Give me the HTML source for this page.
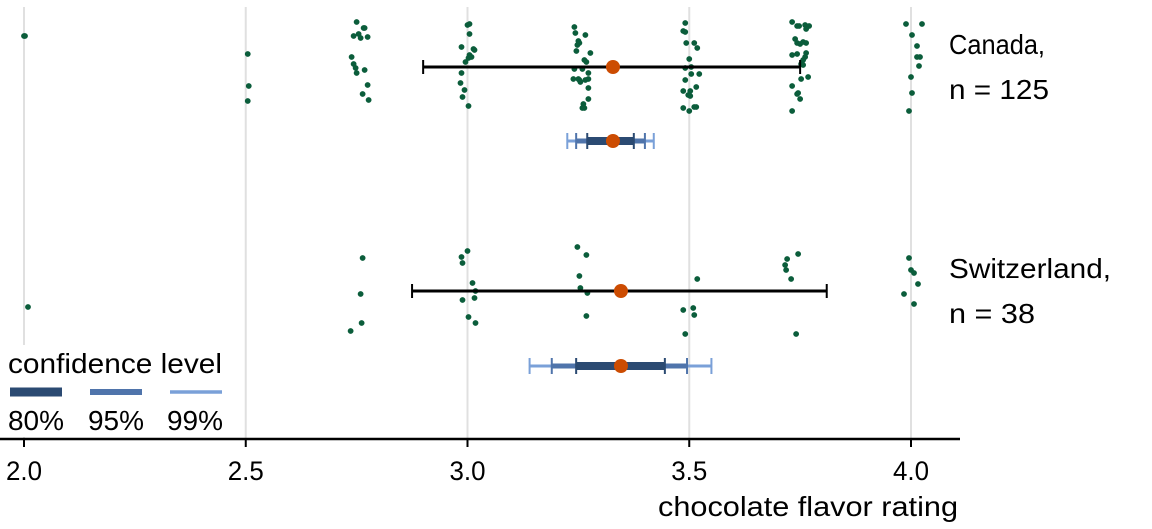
<!DOCTYPE html>
<html><head><meta charset="utf-8"><style>
html,body{margin:0;padding:0;background:#fff;}
svg{display:block;font-family:"Liberation Sans",sans-serif;}
</style></head><body>
<svg id="chart" width="1152" height="529" viewBox="0 0 1152 529" xmlns="http://www.w3.org/2000/svg">
<g id="grid"></g>
<g id="points"></g>
<g id="ci"></g>
<g id="axis"></g>
<g>
<rect x="0" y="345" width="236" height="92" fill="#fff"/>
<text x="8" y="373" font-size="28" textLength="214" lengthAdjust="spacingAndGlyphs">confidence level</text>
<line x1="10" y1="392" x2="62" y2="392" stroke="#2b4a72" stroke-width="9"/>
<line x1="90" y1="392" x2="142" y2="392" stroke="#4f74ab" stroke-width="6"/>
<line x1="170" y1="392" x2="222" y2="392" stroke="#7aa0d8" stroke-width="3.5"/>
<text x="8" y="430" font-size="28" textLength="56" lengthAdjust="spacingAndGlyphs">80%</text>
<text x="88" y="430" font-size="28" textLength="56" lengthAdjust="spacingAndGlyphs">95%</text>
<text x="167" y="430" font-size="28" textLength="56" lengthAdjust="spacingAndGlyphs">99%</text>
</g>
<text x="949" y="54" font-size="28" textLength="96" lengthAdjust="spacingAndGlyphs">Canada,</text>
<text x="949" y="99" font-size="28" textLength="100" lengthAdjust="spacingAndGlyphs">n = 125</text>
<text x="949" y="278" font-size="28" textLength="162" lengthAdjust="spacingAndGlyphs">Switzerland,</text>
<text x="949" y="323" font-size="28" textLength="86" lengthAdjust="spacingAndGlyphs">n = 38</text>
<text x="958" y="516" font-size="28" text-anchor="end" textLength="300" lengthAdjust="spacingAndGlyphs">chocolate flavor rating</text>
</svg>
<script>
const tickValues = [2.0, 2.5, 3.0, 3.5, 4.0];
const tickLabels = ["2.0", "2.5", "3.0", "3.5", "4.0"];
const canadaRatings = [2,2,2.5,2.5,2.5,
2.75,2.75,2.75,2.75,2.75,2.75,2.75,2.75,2.75,2.75,2.75,2.75,2.75,2.75,2.75,
3,3,3,3,3,3,3,3,3,3,3,3,3,3,3,
3.25,3.25,3.25,3.25,3.25,3.25,3.25,3.25,3.25,3.25,3.25,3.25,3.25,3.25,3.25,3.25,3.25,3.25,3.25,3.25,3.25,3.25,3.25,3.25,
3.5,3.5,3.5,3.5,3.5,3.5,3.5,3.5,3.5,3.5,3.5,3.5,3.5,3.5,3.5,3.5,3.5,3.5,3.5,3.5,3.5,
3.75,3.75,3.75,3.75,3.75,3.75,3.75,3.75,3.75,3.75,3.75,3.75,3.75,3.75,3.75,3.75,3.75,3.75,3.75,3.75,3.75,3.75,3.75,3.75,3.75,
4,4,4,4,4,4,4,4,4,4];
const canadaJitterX = [1,0,2,3,2, 0,-3,2,7,8,4,11,-5,-3,-1,0,8,11,6,12, 0,2,2,-6,6,7,2,1,-2,-6,-7,-3,-5,1,4,
-4,-3,7,0,-1,1,-2,12,6,8,4,-4,10,0,-5,1,7,10,2,10,10,5,6,4,
-4,-6,-4,-3,5,8,0,2,-4,2,10,-4,1,-6,-1,1,7,-6,0,5,7,
-8,-3,-1,5,9,6,-5,-3,0,3,6,-8,-3,6,5,3,1,3,8,1,-8,-2,-3,0,-8,
-5,11,1,6,6,9,8,0,1,-2];
const canadaJitterY = [36,36,54,86,101, 22,36,34,28,28,38,37,57,64,68,73,70,85,94,100, 25,24,34,47,49,50,55,58,62,73,83,90,97,106,57,
27,33,35,41,45,43,51,53,60,62,69,69,73,79,79,80,80,79,82,88,99,104,108,108,
23,31,32,43,43,48,59,67,68,74,74,80,91,91,95,96,87,108,111,107,107,
22,26,26,25,26,29,39,43,44,42,43,55,54,53,57,60,64,65,77,79,86,93,94,99,111,
24,24,35,46,57,57,66,77,93,111];
const swissRatings = [2,2.75,2.75,2.75,2.75,3,3,3,3,3,3,3,3,3,3.25,3.25,3.25,3.25,3.25,3.25,3.5,3.5,3.5,3.5,3.5,3.75,3.75,3.75,3.75,3.75,3.75,4,4,4,4,4,4];
const swissJitterX = [4,6,4,5,-6,0,-6,-5,5,8,-5,7,1,8,-1,8,1,2,9,8,8,-6,4,5,-4,-2,-13,-15,-14,-9,-4,-2,0,3,7,-7,3];
const swissJitterY = [307,258,294,323,331,251,257,263,283,291,300,298,317,323,247,255,276,288,293,316,279,310,308,315,334,254,259,265,270,279,334,258,270,273,284,294,304];
const groupMeans = [3.328, 3.346];
const groupSdLow = [2.90, 2.875];
const groupSdHigh = [3.75, 3.81];
const ci80Low = [3.27, 3.245];
const ci80High = [3.375, 3.445];
const ci95Low = [3.245, 3.19];
const ci95High = [3.40, 3.495];
const ci99Low = [3.225, 3.14];
const ci99High = [3.42, 3.55];

const NS = "http://www.w3.org/2000/svg";
const x0 = 24, x1 = 911;
function xs(v){ return x0 + (v - 2) * (x1 - x0) / 2; }
function mk(tag, attrs, parent){ const e = document.createElementNS(NS, tag); for (const k in attrs) e.setAttribute(k, attrs[k]); parent.appendChild(e); return e; }
const grid = document.getElementById('grid'), pts = document.getElementById('points'), ci = document.getElementById('ci'), axis = document.getElementById('axis');

tickValues.forEach((v, i) => {
  const g = mk('line', {x1: xs(v), x2: xs(v), y1: 7, y2: 439, stroke: '#e0e0e0', 'stroke-width': 2}, grid);
  
  
  const t = mk('line', {x1: xs(v), x2: xs(v), y1: 439, y2: 447, stroke: '#000', 'stroke-width': 2}, axis);
  
  
  const l = mk('text', {x: xs(v), y: 480, 'font-size': 27, 'text-anchor': 'middle', textLength: 36, lengthAdjust: 'spacingAndGlyphs'}, axis);
  l.textContent = tickLabels[i];
  
  
});
const ax = mk('line', {x1: 0, x2: 960, y1: 439, y2: 439, stroke: '#000', 'stroke-width': 2.5}, axis);



function drawPoints(r, jx, jy){
  r.forEach((v, i) => {
    const c = mk('circle', {cx: xs(v) + jx[i], cy: jy[i], r: 2.9, fill: '#0b5d3b'}, pts);
    
    
  });
}
drawPoints(canadaRatings, canadaJitterX, canadaJitterY);
drawPoints(swissRatings, swissJitterX, swissJitterY);

const sdY = [67, 291], ciY = [141, 366];
function bar(lo, hi, y, color, w, capH, name){
  const l = mk('line', {x1: xs(lo), x2: xs(hi), y1: y, y2: y, stroke: color, 'stroke-width': w}, ci);
  
  
  [lo, hi].forEach(v => {
    const c = mk('line', {x1: xs(v), x2: xs(v), y1: y - capH, y2: y + capH, stroke: color, 'stroke-width': 2}, ci);
    
    
  });
}
groupMeans.forEach((m, i) => {
  bar(groupSdLow[i], groupSdHigh[i], sdY[i], '#000', 3, 7, 'sd-range');
  bar(ci99Low[i], ci99High[i], ciY[i], '#7aa0d8', 3, 8, 'ci-99');
  bar(ci95Low[i], ci95High[i], ciY[i], '#4f74ab', 5, 8, 'ci-95');
  bar(ci80Low[i], ci80High[i], ciY[i], '#2b4a72', 8, 8, 'ci-80');
  [sdY[i], ciY[i]].forEach(y => {
    const d = mk('circle', {cx: xs(m), cy: y, r: 7, fill: '#cc4c02'}, ci);
    
    
  });
});
</script>
</body></html>
